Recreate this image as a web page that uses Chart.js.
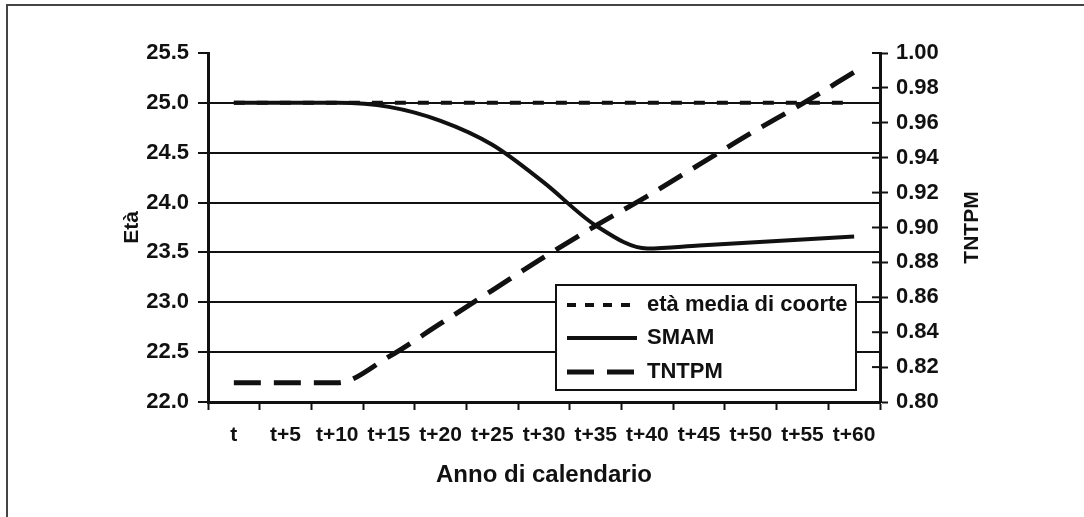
<!DOCTYPE html>
<html>
<head>
<meta charset="utf-8">
<script src="https://cdn.jsdelivr.net/npm/chart.js@4.4.0/dist/chart.umd.min.js"></script>
<style>
  body { margin: 0; background: #fff; }
  #wrap { width: 1084px; height: 517px; }
</style>
</head>
<body>
<div id="wrap"><canvas id="chart" width="1084" height="517"></canvas></div>
<script>
'use strict';
// data
var categories = ['t', 't+5', 't+10', 't+15', 't+20', 't+25', 't+30', 't+35', 't+40', 't+45', 't+50', 't+55', 't+60'];
var etaMedia = [25.0, 25.0, 25.0, 25.0, 25.0, 25.0, 25.0, 25.0, 25.0, 25.0, 25.0, 25.0, 25.0];
var smam = [25.0, 25.0, 25.0, 24.96, 24.82, 24.58, 24.20, 23.77, 23.54, 23.57, 23.60, 23.63, 23.66];
var tntpm = [0.811, 0.811, 0.811, 0.826, 0.845, 0.864, 0.883, 0.901, 0.918, 0.936, 0.954, 0.971, 0.989];
var seriesNames = ['età media di coorte', 'SMAM', 'TNTPM'];

var FONT = '"Liberation Sans", Arial, sans-serif';
var INK = '#111';

// frame, legend box, right-axis title
var decorations = {
  id: 'decorations',
  beforeDraw: function(chart) {
    var c = chart.ctx;
    c.save();
    c.fillStyle = '#fff';
    c.fillRect(0, 0, chart.width, chart.height);
    c.strokeStyle = '#444';
    c.lineWidth = 2;
    c.beginPath();
    c.moveTo(7, chart.height);
    c.lineTo(7, 5);
    c.lineTo(chart.width, 5);
    c.stroke();
    c.restore();
  },
  afterDraw: function(chart) {
    var c = chart.ctx;
    var area = chart.chartArea;
    var y1 = chart.scales.y1;

    // inner tick marks of right axis
    c.save();
    c.strokeStyle = INK;
    c.lineWidth = 2;
    y1.ticks.forEach(function(t) {
      var py = y1.getPixelForValue(t.value);
      c.beginPath();
      c.moveTo(area.right - 8, py);
      c.lineTo(area.right, py);
      c.stroke();
    });

    // legend
    var bw = 300, bh = 105;
    var bx = area.right - 24 - bw, by = area.bottom - 12 - bh;
    c.fillStyle = '#fff';
    c.fillRect(bx, by, bw, bh);
    c.lineWidth = 2;
    c.strokeRect(bx, by, bw, bh);
    var rows = [20, 53, 87];
    chart.data.datasets.forEach(function(ds, i) {
      var ry = by + rows[i];
      c.strokeStyle = ds.borderColor;
      c.lineWidth = ds.borderWidth;
      c.setLineDash(i === 0 ? [9, 9] : (ds.borderDash || []));
      c.beginPath();
      c.moveTo(bx + 11, ry);
      c.lineTo(bx + 81, ry);
      c.stroke();
      c.setLineDash([]);
      c.fillStyle = INK;
      c.font = 'bold 22px ' + FONT;
      c.textBaseline = 'middle';
      c.textAlign = 'left';
      c.fillText(ds.label, bx + 91, ry);
    });

    // right title, reading bottom to top
    c.translate(area.right + 92, (area.top + area.bottom) / 2);
    c.rotate(-Math.PI / 2);
    c.font = 'bold 21px ' + FONT;
    c.textAlign = 'center';
    c.textBaseline = 'middle';
    c.fillStyle = INK;
    c.fillText('TNTPM', 0, 0);
    c.restore();
  }
};

new Chart(document.getElementById('chart'), {
  type: 'line',
  data: {
    labels: categories,
    datasets: [{
      label: seriesNames[0],
      data: etaMedia,
      yAxisID: 'y',
      borderColor: INK,
      borderWidth: 4,
      borderDash: [11, 12],
      pointRadius: 0,
      fill: false
    }, {
      label: seriesNames[1],
      data: smam,
      yAxisID: 'y',
      borderColor: INK,
      borderWidth: 4,
      cubicInterpolationMode: 'monotone',
      pointRadius: 0,
      fill: false
    }, {
      label: seriesNames[2],
      data: tntpm,
      yAxisID: 'y1',
      borderColor: INK,
      borderWidth: 5,
      borderDash: [27, 13],
      cubicInterpolationMode: 'monotone',
      pointRadius: 0,
      fill: false
    }]
  },
  options: {
    responsive: false,
    animation: false,
    layout: { padding: { left: 120, top: 53, right: 124, bottom: 27 } },
    plugins: { legend: { display: false }, tooltip: { enabled: false } },
    scales: {
      x: {
        offset: true,
        grid: { drawOnChartArea: false, offset: true, tickLength: 8, tickColor: INK, tickWidth: 2 },
        border: { color: INK, width: 3 },
        ticks: { color: INK, font: { family: FONT, size: 21, weight: 'bold' }, padding: 13, maxRotation: 0, autoSkip: false },
        title: { display: true, text: 'Anno di calendario', color: INK, padding: 0, font: { family: FONT, size: 24, weight: 'bold' } },
        afterFit: function(s) { s.height = 88; }
      },
      y: {
        position: 'left',
        min: 22, max: 25.5,
        grid: {
          color: function(ctx) { return ctx.tick && ctx.tick.value === 25.5 ? 'rgba(0,0,0,0)' : INK; },
          lineWidth: 2, tickLength: 10, tickColor: INK, tickWidth: 2
        },
        border: { color: INK, width: 3 },
        ticks: { stepSize: 0.5, padding: 9, color: INK, font: { family: FONT, size: 22, weight: 'bold' },
          callback: function(v) { return v.toFixed(1); } },
        title: { display: true, text: 'Età', color: INK, padding: 0, font: { family: FONT, size: 21, weight: 'bold' } },
        afterFit: function(s) { s.width = 88; }
      },
      y1: {
        position: 'right',
        min: 0.8, max: 1.0,
        grid: { drawOnChartArea: false, tickLength: 8, tickColor: INK, tickWidth: 2 },
        border: { color: INK, width: 3 },
        ticks: { stepSize: 0.02, padding: 8, color: INK, font: { family: FONT, size: 22, weight: 'bold' },
          callback: function(v) { return v.toFixed(2); } },
        afterFit: function(s) { s.width = 80; }
      }
    }
  },
  plugins: [decorations]
});
</script>
</body>
</html>
